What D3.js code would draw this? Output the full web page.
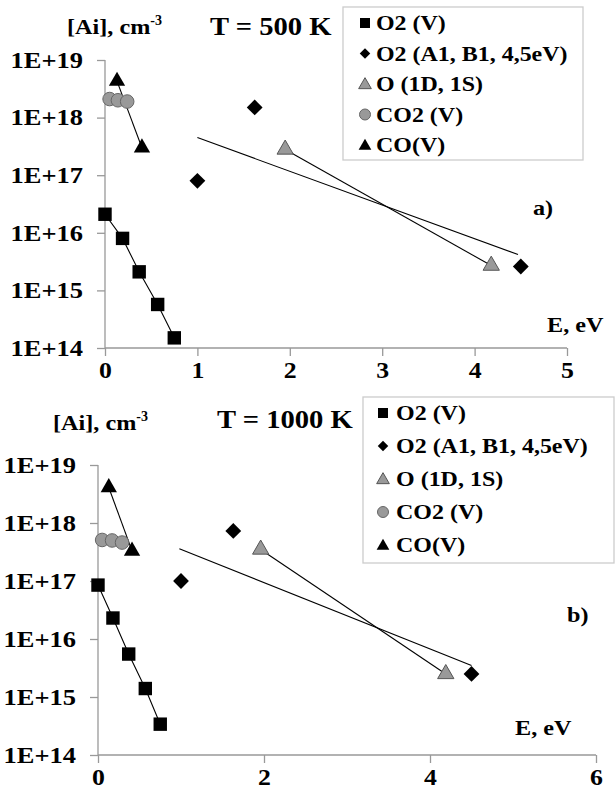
<!DOCTYPE html>
<html>
<head>
<meta charset="utf-8">
<script src="https://cdn.jsdelivr.net/npm/d3@7"></script>
<style>
  body { margin: 0; background: #fff; }
  text { font-family: "Liberation Serif", "Times New Roman", serif; font-weight: bold; fill: #000; }
</style>
</head>
<body>
<div id="chart"></div>
<script>
// legend names, same for both panels
const seriesNames = ["O2 (V)", "O2 (A1, B1, 4,5eV)", "O (1D, 1S)", "CO2 (V)", "CO(V)"];

// T = 500 K  (energy in eV, concentration in cm-3)
const o2vE500 = [0, 0.19, 0.37, 0.57, 0.75];
const o2vN500 = [2.1e16, 8e15, 2.1e15, 5.7e14, 1.5e14];
const o2abE500 = [1.0, 1.62, 4.5];
const o2abN500 = [8e16, 1.5e18, 2.6e15];
const oE500 = [1.95, 4.18];
const oN500 = [2.8e17, 2.7e15];
const co2E500 = [0.05, 0.14, 0.24];
const co2N500 = [2.1e18, 2.0e18, 1.9e18];
const coE500 = [0.13, 0.4];
const coN500 = [4.3e18, 3.0e17];
const trendE500 = [1.0, 4.47];
const trendN500 = [4.5e17, 4.2e15];

// T = 1000 K
const o2vE1000 = [0, 0.18, 0.37, 0.57, 0.75];
const o2vN1000 = [8.5e16, 2.3e16, 5.5e15, 1.4e15, 3.4e14];
const o2abE1000 = [1.0, 1.63, 4.5];
const o2abN1000 = [1e17, 7.3e17, 2.5e15];
const oE1000 = [1.96, 4.19];
const oN1000 = [3.5e17, 2.5e15];
const co2E1000 = [0.05, 0.17, 0.29];
const co2N1000 = [5.1e17, 5.0e17, 4.6e17];
const coE1000 = [0.13, 0.41];
const coN1000 = [4.1e18, 3.3e17];
const trendE1000 = [0.98, 4.5];
const trendN1000 = [3.6e17, 3.5e15];

const yTicks = [1e14, 1e15, 1e16, 1e17, 1e18, 1e19];
const yTickLabels = ["1E+14", "1E+15", "1E+16", "1E+17", "1E+18", "1E+19"];
const xTicks500 = [0, 1, 2, 3, 4, 5];
const xTicks1000 = [0, 2, 4, 6];

const svg = d3.select("#chart")
  .append("svg")
    .attr("width", 616)
    .attr("height", 796);

const zip = (xs, ys) => xs.map((x, i) => [x, ys[i]]);

// the source picture has wide letters, so widen the glyphs a bit
function widen(sel, k) {
  sel.each(function() {
    const len = this.getComputedTextLength();
    d3.select(this).attr("textLength", len * k).attr("lengthAdjust", "spacingAndGlyphs");
  });
}

// marker shapes
const sq = d3.symbol().type(d3.symbolSquare).size(180);
const dia = d3.symbol().type(d3.symbolSquare).size(125);
const tri = d3.symbol().type(d3.symbolTriangle).size(115);

function drawPanel(p) {
  const x = d3.scaleLinear().domain(p.xDomain).range(p.xRange);
  const y = d3.scaleLog().domain([1e14, 1e19]).range(p.yRange);
  const g = svg.append("g");

  // axes
  const yAxis = g.append("g")
    .attr("transform", `translate(${p.xRange[0]},0)`)
    .call(d3.axisLeft(y).tickValues(yTicks).tickFormat((d, i) => yTickLabels[i]).tickSize(8).tickPadding(p.yPad));
  const xAxis = g.append("g")
    .attr("transform", `translate(0,${p.yRange[0]})`)
    .call(d3.axisBottom(x).tickValues(p.xTicks).tickFormat(d3.format("d")).tickSize(8).tickPadding(6));
  [yAxis, xAxis].forEach(a => {
    a.selectAll("path, line").attr("stroke", "#999").attr("stroke-width", 1.3);
    a.selectAll("text").attr("font-size", 23).attr("font-family", null);
  });
  widen(yAxis.selectAll("text"), 1.15);
  widen(xAxis.selectAll("text"), 1.12);
  xAxis.select(".domain").attr("d", `M${p.xRange[0]},0H${p.xRange[1]}`);
  yAxis.select(".domain").attr("d", `M0,${p.yRange[0]}V${p.yRange[1]}`);

  const line = d3.line().x(d => x(d[0])).y(d => y(d[1]));

  // connecting lines and the fitted trend line
  [p.o2v, p.o, p.co2, p.co, p.trend].forEach(s => {
    g.append("path").datum(s).attr("d", line)
      .attr("fill", "none").attr("stroke", "#000").attr("stroke-width", 1.1);
  });

  // markers
  g.selectAll(".sq").data(p.o2v).join("path")
    .attr("d", sq).attr("fill", "#000")
    .attr("transform", d => `translate(${x(d[0])},${y(d[1])})`);
  g.selectAll(".dia").data(p.o2ab).join("path")
    .attr("d", dia).attr("fill", "#000")
    .attr("transform", d => `translate(${x(d[0])},${y(d[1])}) rotate(45)`);
  g.selectAll(".otri").data(p.o).join("path")
    .attr("d", tri).attr("fill", "#999").attr("stroke", "#555").attr("stroke-width", 1)
    .attr("transform", d => `translate(${x(d[0])},${y(d[1])})`);
  g.selectAll(".circ").data(p.co2).join("circle")
    .attr("cx", d => x(d[0])).attr("cy", d => y(d[1])).attr("r", 6.8)
    .attr("fill", "#999").attr("stroke", "#666").attr("stroke-width", 1);
  g.selectAll(".cotri").data(p.co).join("path")
    .attr("d", tri).attr("fill", "#000")
    .attr("transform", d => `translate(${x(d[0])},${y(d[1])})`);

  // texts
  const yl = g.append("text").attr("x", p.yLabel[0]).attr("y", p.yLabel[1]).attr("font-size", 22);
  const ylMain = yl.append("tspan").text("[Ai], cm");
  yl.append("tspan").text("-3").attr("font-size", 14).attr("dy", -9);
  widen(ylMain, 1.1);
  const ti = g.append("text").attr("x", p.title[0]).attr("y", p.title[1]).attr("font-size", 26).text(p.titleText);
  const xl = g.append("text").attr("x", p.xLabel[0]).attr("y", p.xLabel[1]).attr("font-size", 22).text("E, eV");
  const tg = g.append("text").attr("x", p.tag[0]).attr("y", p.tag[1]).attr("font-size", 22).text(p.tagText);
  widen(ti, 1.1);
  widen(xl, 1.1);
  widen(tg, 1.1);

  // legend
  const L = p.legend;
  g.append("rect").attr("x", L.x).attr("y", L.y).attr("width", L.w).attr("height", L.h)
    .attr("fill", "#fff").attr("stroke", "#ccc").attr("stroke-width", 1.3);
  const items = g.selectAll(".leg").data(seriesNames).join("g")
    .attr("transform", (d, i) => `translate(${L.mx},${L.r0 + i * L.dr})`);
  const legSym = [
    d3.symbol().type(d3.symbolSquare).size(100),
    d3.symbol().type(d3.symbolSquare).size(55),
    d3.symbol().type(d3.symbolTriangle).size(70),
    null,
    d3.symbol().type(d3.symbolTriangle).size(70)
  ];
  items.each(function(d, i) {
    const it = d3.select(this);
    if (i === 3) {
      it.append("circle").attr("r", 5.5).attr("fill", "#999").attr("stroke", "#666");
    } else {
      it.append("path").attr("d", legSym[i])
        .attr("fill", i === 2 ? "#999" : "#000")
        .attr("stroke", i === 2 ? "#555" : "none")
        .attr("transform", i === 1 ? "rotate(45)" : i === 2 || i === 4 ? "translate(0,1)" : null);
    }
    const t = it.append("text").attr("x", L.tx).attr("y", 7).attr("font-size", L.fs).text(d);
    widen(t, L.k);
  });
}

drawPanel({
  xDomain: [0, 5], xRange: [105, 567], yRange: [348, 60], xTicks: xTicks500, yPad: 14,
  o2v: zip(o2vE500, o2vN500), o2ab: zip(o2abE500, o2abN500), o: zip(oE500, oN500),
  co2: zip(co2E500, co2N500), co: zip(coE500, coN500), trend: zip(trendE500, trendN500),
  yLabel: [67, 34], title: [210, 35], titleText: "T = 500 K",
  xLabel: [547, 332], tag: [533, 215], tagText: "a)",
  legend: {x: 343, y: 7, w: 240, h: 153, mx: 365, tx: 11, r0: 23, dr: 30.5, fs: 21, k: 1.14}
});

drawPanel({
  xDomain: [0, 6], xRange: [98, 596], yRange: [755, 465], xTicks: xTicks1000, yPad: 14,
  o2v: zip(o2vE1000, o2vN1000), o2ab: zip(o2abE1000, o2abN1000), o: zip(oE1000, oN1000),
  co2: zip(co2E1000, co2N1000), co: zip(coE1000, coN1000), trend: zip(trendE1000, trendN1000),
  yLabel: [53, 430], title: [217, 428], titleText: "T = 1000 K",
  xLabel: [515, 735], tag: [567, 622], tagText: "b)",
  legend: {x: 363, y: 397, w: 251, h: 166, mx: 383, tx: 13, r0: 413, dr: 33, fs: 22, k: 1.09}
});
</script>
</body>
</html>
